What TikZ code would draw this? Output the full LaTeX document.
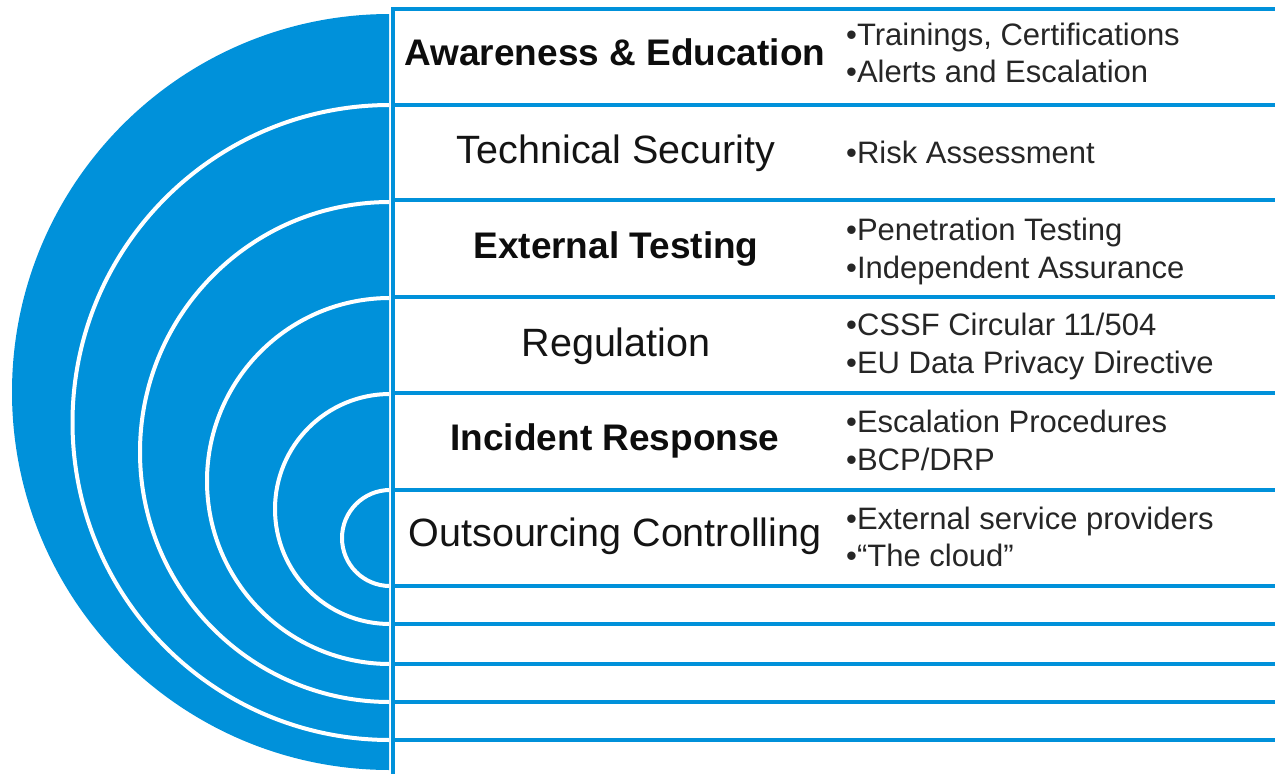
\documentclass[tikz,border=0pt]{standalone}
\usepackage{fontspec}
\setmainfont{Liberation Sans}
\definecolor{kblue}{RGB}{0,145,218}
\begin{document}
\begin{tikzpicture}[x=1pt,y=-1pt,
  rule/.style={draw=kblue, line width=3.6pt},
  ring/.style={draw=white, line width=4pt},
  head/.style={anchor=base, inner sep=0pt, text=black!92, font=\fontsize{39.5}{44}\selectfont},
  headbold/.style={anchor=base, inner sep=0pt, text=black!95, font=\fontsize{37}{44}\selectfont\bfseries},
  item/.style={anchor=base west, inner sep=0pt, text=black!85, font=\fontsize{31}{36}\selectfont}]
\useasboundingbox (0,0) rectangle (1275,774);

% concentric half discs
\begin{scope}
  \clip (0,0) rectangle (389,774);
  \fill[kblue] (390,392) circle[radius=378];
  \foreach \cy/\r in {422.5/317.5, 452/250, 481/183, 509/115, 538/48}
    \draw[ring] (390,\cy) circle[radius=\r];
\end{scope}

% table rules
\draw[rule] (393,7.2) -- (393,774);
\foreach \yy in {9,105,200,297,393,490,586,624,664,702,740}
  \draw[rule] (391.2,\yy) -- (1275,\yy);

% layer titles
\node[headbold] (h1) at (615,65)  {Awareness \& Education};
\node[head]     (h2) at (616,163) {Technical Security};
\node[headbold] (h3) at (616,258) {External Testing};
\node[head]     (h4) at (616,356) {Regulation};
\node[headbold] (h5) at (615,450) {Incident Response};
\node[head]     (h6) at (615,546) {Outsourcing Controlling};

% bullet items
\node[item] (i1a) at (846,45)  {•Trainings, Certifications};
\node[item] (i1b) at (846,82)  {•Alerts and Escalation};
\node[item] (i2a) at (846,163) {•Risk Assessment};
\node[item] (i3a) at (846,240) {•Penetration Testing};
\node[item] (i3b) at (846,278) {•Independent Assurance};
\node[item] (i4a) at (846,335) {•CSSF Circular 11/504};
\node[item] (i4b) at (846,373) {•EU Data Privacy Directive};
\node[item] (i5a) at (846,432) {•Escalation Procedures};
\node[item] (i5b) at (846,470) {•BCP/DRP};
\node[item] (i6a) at (846,529) {•External service providers};
\node[item] (i6b) at (846,566) {•“The cloud”};
\end{tikzpicture}
\end{document}
